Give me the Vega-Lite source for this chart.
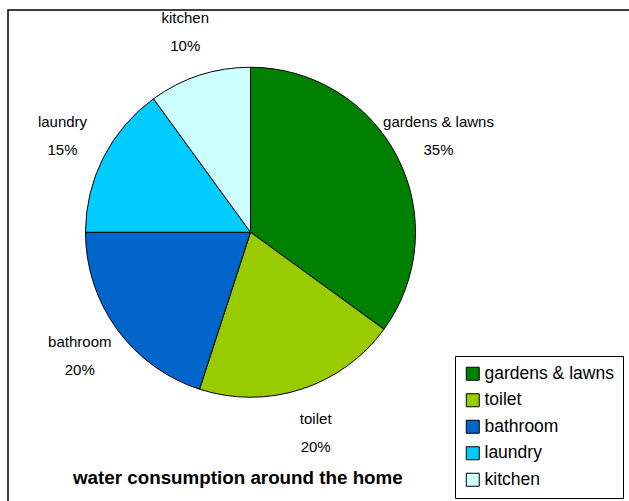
{
  "$schema": "https://vega.github.io/schema/vega-lite/v6.json",
  "autosize": {"type": "fit", "contains": "padding"},
  "width": 629,
  "height": 501,
  "padding": {"left": 8, "top": 10, "right": -4, "bottom": -4},
  "background": "white",
  "view": {"stroke": "black", "strokeWidth": 1.5, "fill": "white"},
  "config": {
    "view": {"stroke": "black", "strokeWidth": 1.5},
    "font": "Liberation Sans"
  },
  "title": {
    "text": "water consumption around the home",
    "orient": "bottom",
    "frame": "group",
    "anchor": "start",
    "dx": 65,
    "offset": -36,
    "fontSize": 18.8,
    "fontWeight": "bold",
    "color": "black",
    "font": "Liberation Sans"
  },
  "data": {
    "values": [
      {"category": "gardens & lawns", "value": 35, "order": 1, "label": "gardens & lawns\n35%"},
      {"category": "toilet", "value": 20, "order": 2, "label": "toilet\n20%"},
      {"category": "bathroom", "value": 20, "order": 3, "label": "bathroom\n20%"},
      {"category": "laundry", "value": 15, "order": 4, "label": "laundry\n15%"},
      {"category": "kitchen", "value": 10, "order": 5, "label": "kitchen\n10%"}
    ]
  },
  "encoding": {
    "theta": {"field": "value", "type": "quantitative", "stack": true},
    "order": {"field": "order", "type": "quantitative"}
  },
  "layer": [
    {
      "mark": {
        "type": "arc",
        "outerRadius": 165,
        "stroke": "black",
        "strokeWidth": 1,
        "x": {"expr": "width * 0.388"},
        "y": {"expr": "height * 0.449"}
      },
      "encoding": {
        "color": {
          "field": "category",
          "type": "nominal",
          "sort": null,
          "scale": {
            "domain": ["gardens & lawns", "toilet", "bathroom", "laundry", "kitchen"],
            "range": ["#008000", "#99CC00", "#0066CC", "#00CCFF", "#CCFFFF"]
          },
          "legend": {
            "title": null,
            "orient": "none",
            "legendX": 447,
            "legendY": 346,
            "direction": "vertical",
            "symbolType": "square",
            "symbolSize": 169,
            "symbolStrokeColor": "black",
            "symbolStrokeWidth": 1,
            "labelFontSize": 17.5,
            "labelFont": "Liberation Sans",
            "labelColor": "black",
            "strokeColor": "black",
            "fillColor": "white",
            "padding": 9,
            "rowPadding": 7.5,
            "symbolOffset": 0,
            "labelOffset": 3
          }
        }
      }
    },
    {
      "mark": {
        "type": "text",
        "radius": 211,
        "lineBreak": "\n",
        "fontSize": 15,
        "lineHeight": 28,
        "color": "black",
        "align": "center",
        "baseline": "middle",
        "dy": -14,
        "x": {"expr": "width * 0.388"},
        "y": {"expr": "height * 0.449"}
      },
      "encoding": {
        "text": {"field": "label", "type": "nominal"}
      }
    }
  ]
}
